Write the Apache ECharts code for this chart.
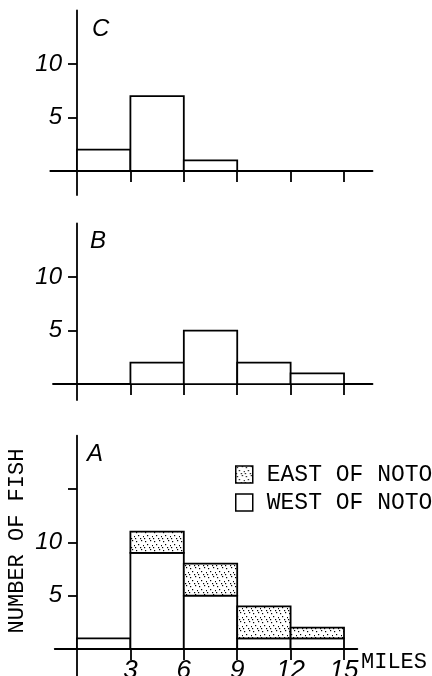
<!DOCTYPE html>
<html>
<head>
<meta charset="utf-8">
<script src="https://cdn.jsdelivr.net/npm/echarts@6/dist/echarts.min.js"></script>
<style>
  html, body { margin: 0; padding: 0; background: #fff; }
  #chart { width: 432px; height: 676px; }
</style>
</head>
<body>
<div id="chart"></div>
<script>
// bin edges (miles) and fish counts per panel
const binEdges = [0, 3, 6, 9, 12, 15];
const countsC = [2, 7, 1, 0, 0];
const countsB = [0, 2, 5, 2, 1];
const westA = [1, 9, 5, 1, 1];
const eastA = [0, 2, 3, 3, 1];
const xTickValues = [3, 6, 9, 12, 15];
const yLabelValues = [5, 10];
const yTickValuesBC = [5, 10];
const yTickValuesA = [5, 10, 15];
const panelLetters = ['C', 'B', 'A'];
const legendNames = ['EAST OF NOTO', 'WEST OF NOTO'];

const INK = '#000';
const LW = 1.8;
const digitFont = 'Liberation Sans';
const monoFont = 'Liberation Mono';
const PX_PER_MILE = 17.8;

// stippled fill for "east of Noto"
function makeStipple() {
  const c = document.createElement('canvas');
  c.width = 9; c.height = 9;
  const ctx = c.getContext('2d');
  ctx.fillStyle = '#fff';
  ctx.fillRect(0, 0, 9, 9);
  ctx.fillStyle = '#000';
  [[1, 1], [6, 0], [3, 4], [8, 5], [5, 7], [0, 7]].forEach(p => ctx.fillRect(p[0], p[1], 1.2, 1.2));
  return c;
}
const stipple = { image: makeStipple(), repeat: 'repeat' };

const binData = counts => counts.map((c, i) => [binEdges[i], binEdges[i + 1], 0, c]);
const stackData = (base, add) => add.map((c, i) => [binEdges[i], binEdges[i + 1], base[i], base[i] + c]);

function histRender(fill) {
  return function (params, api) {
    const x0 = api.value(0), x1 = api.value(1), y0 = api.value(2), y1 = api.value(3);
    if (y1 <= y0) return null;
    const p0 = api.coord([x0, y1]);
    const p1 = api.coord([x1, y0]);
    return {
      type: 'rect',
      shape: { x: p0[0], y: p0[1], width: p1[0] - p0[0], height: p1[1] - p0[1] },
      style: { fill: fill, stroke: INK, lineWidth: LW }
    };
  };
}

// panel layout: C (top), B (middle), A (bottom)
const panels = [
  { xMin: -1.5, xMax: 16.6, yMin: -2.25, yMax: 15, left: 50.3, top: 10.5, width: 322.2, height: 184.6, yTicks: yTickValuesBC, xLabels: false },
  { xMin: -1.35, xMax: 16.6, yMin: -1.5, yMax: 15, left: 53, top: 223.5, width: 319.5, height: 176.6, yTicks: yTickValuesBC, xLabels: false },
  { xMin: -1.25, xMax: 15.75, yMin: -3, yMax: 20, left: 54.75, top: 435.6, width: 302.6, height: 245.4, yTicks: yTickValuesA, xLabels: true }
];
const letterPos = [[92, 17], [90, 229], [87, 442]];

const chart = echarts.init(document.getElementById('chart'));

const option = {
  backgroundColor: '#fff',
  animation: false,
  title: panelLetters.map((t, i) => ({
    text: t,
    left: letterPos[i][0],
    top: letterPos[i][1],
    padding: 0,
    textStyle: { fontFamily: digitFont, fontStyle: 'italic', fontWeight: 'normal', fontSize: 24, color: INK }
  })),
  legend: {
    orient: 'vertical',
    left: 235,
    top: 463,
    padding: 0,
    itemWidth: 17,
    itemHeight: 17,
    itemGap: 5,
    icon: 'rect',
    selectedMode: false,
    textStyle: { fontFamily: monoFont, fontSize: 23, color: INK, padding: [0, 0, 0, 9] },
    data: [
      { name: legendNames[0], itemStyle: { color: stipple, borderColor: INK, borderWidth: 1.5 } },
      { name: legendNames[1], itemStyle: { color: '#fff', borderColor: INK, borderWidth: 1.5 } }
    ]
  },
  grid: panels.map(p => ({
    left: p.left, top: p.top, width: p.width, height: p.height,
    containLabel: false, outerBoundsMode: 'none'
  })),
  xAxis: panels.map((p, i) => ({
    type: 'value',
    gridIndex: i,
    min: p.xMin,
    max: p.xMax,
    axisLine: { show: true, onZero: true, lineStyle: { color: INK, width: LW } },
    axisTick: { show: true, customValues: xTickValues, length: 11, lineStyle: { color: INK, width: LW } },
    axisLabel: {
      show: p.xLabels, customValues: xTickValues,
      // labels stay at the grid's bottom edge, so pull them up to the zero line
      margin: 9 - (0 - p.yMin) * p.height / (p.yMax - p.yMin),
      color: INK, fontFamily: digitFont, fontStyle: 'italic', fontSize: 26
    },
    splitLine: { show: false }
  })),
  yAxis: panels.map((p, i) => ({
    type: 'value',
    gridIndex: i,
    min: p.yMin,
    max: p.yMax,
    axisLine: { show: true, onZero: true, lineStyle: { color: INK, width: LW } },
    axisTick: { show: true, customValues: p.yTicks, length: 9, lineStyle: { color: INK, width: LW } },
    axisLabel: {
      show: true, customValues: yLabelValues,
      margin: 15 - (0 - p.xMin) * PX_PER_MILE,
      color: INK, fontFamily: digitFont, fontStyle: 'italic', fontSize: 24
    },
    splitLine: { show: false }
  })),
  graphic: [
    {
      type: 'text', x: 17, y: 541, rotation: Math.PI / 2,
      style: { text: 'NUMBER OF FISH', font: '22px "Liberation Mono"', fill: INK, align: 'center', verticalAlign: 'middle' }
    },
    {
      type: 'text', x: 361, y: 662,
      style: { text: 'MILES', font: '22px "Liberation Mono"', fill: INK, align: 'left', verticalAlign: 'middle' }
    }
  ],
  series: [
    {
      name: 'C', type: 'custom', xAxisIndex: 0, yAxisIndex: 0,
      renderItem: histRender('#fff'), encode: { x: [0, 1], y: [2, 3] },
      data: binData(countsC)
    },
    {
      name: 'B', type: 'custom', xAxisIndex: 1, yAxisIndex: 1,
      renderItem: histRender('#fff'), encode: { x: [0, 1], y: [2, 3] },
      data: binData(countsB)
    },
    {
      name: legendNames[1], type: 'custom', xAxisIndex: 2, yAxisIndex: 2,
      itemStyle: { color: '#fff' },
      renderItem: histRender('#fff'), encode: { x: [0, 1], y: [2, 3] },
      data: binData(westA)
    },
    {
      name: legendNames[0], type: 'custom', xAxisIndex: 2, yAxisIndex: 2,
      itemStyle: { color: '#888' },
      renderItem: histRender(stipple), encode: { x: [0, 1], y: [2, 3] },
      data: stackData(westA, eastA)
    }
  ]
};

chart.setOption(option);
</script>
</body>
</html>
